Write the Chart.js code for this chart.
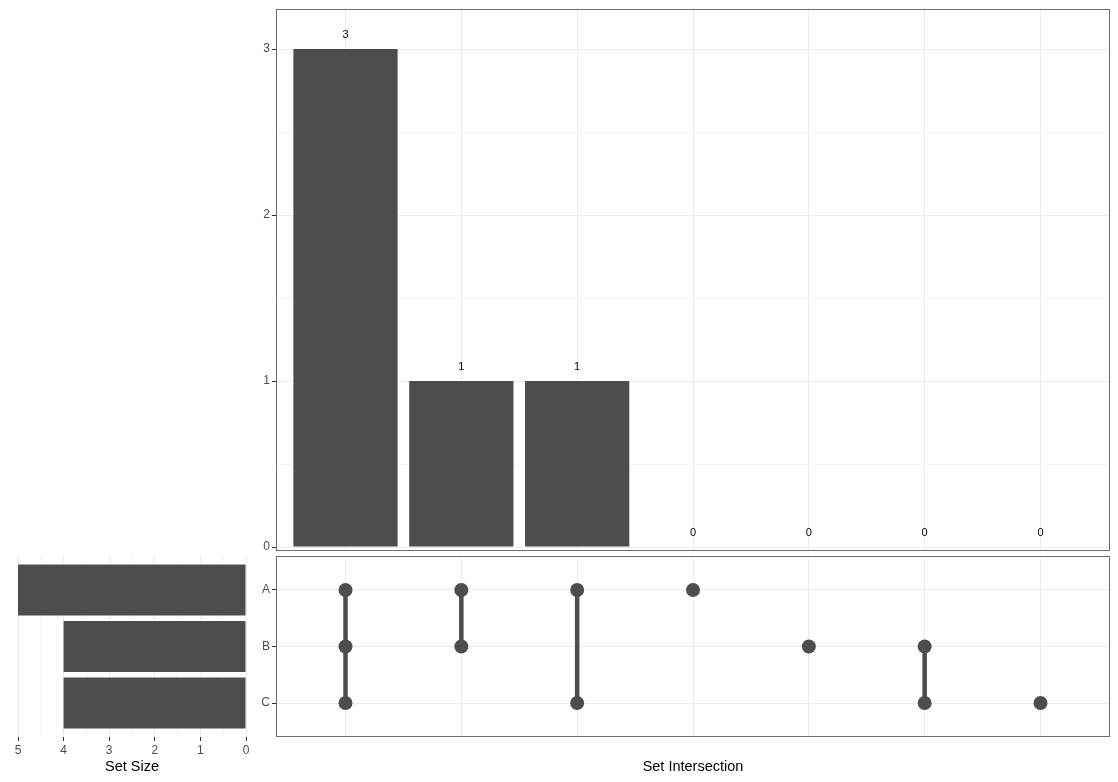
<!DOCTYPE html>
<html><head><meta charset="utf-8">
<script src="https://cdn.jsdelivr.net/npm/chart.js@4/dist/chart.umd.min.js"></script>
<style>
html,body{margin:0;padding:0;background:#fff;}
#wrap{position:relative;width:1118px;height:782px;overflow:hidden;}
canvas{position:absolute;left:0;top:0;}
</style></head><body>
<div id="wrap">
<canvas id="cTop" width="1118" height="782"></canvas>
<canvas id="cMat" width="1118" height="782"></canvas>
<canvas id="cSet" width="1118" height="782"></canvas>
</div>
<script>
// ---- data ----
const setNames = ['A', 'B', 'C'];
const setSizes = [5, 4, 4];
const intersections = ['A&B&C', 'A&B', 'A&C', 'A', 'B', 'B&C', 'C'];
const intersectionSizes = [3, 1, 1, 0, 0, 0, 0];
const intersectionTicks = [0, 1, 2, 3];
const setSizeTicks = [0, 1, 2, 3, 4, 5];

// ---- styles ----
const FONT = "'Liberation Sans', Arial, Helvetica, sans-serif";
const GRID = '#ebebeb';
const GRID_MINOR = '#f4f4f4';
const AX = '#333333';
const TXT = '#4d4d4d';
const BAR = '#4d4d4d';
const CLEAR = 'rgba(0,0,0,0)';
const TICK_SIZE = 12;
const isInt = v => Math.abs(v - Math.round(v)) < 1e-9;
const withHalves = arr => {
  const out = [];
  arr.forEach((v, i) => { out.push(v); if (i < arr.length - 1) out.push((v + arr[i + 1]) / 2); });
  return out;
};

const borderPlugin = {
  id: 'panelBorder',
  afterDraw(chart) {
    const a = chart.chartArea, ctx = chart.ctx;
    ctx.save();
    ctx.strokeStyle = '#6e6e6e';
    ctx.lineWidth = 1;
    ctx.strokeRect(Math.round(a.left) + 0.5, Math.round(a.top) + 0.5,
      Math.round(a.right - a.left) - 1, Math.round(a.bottom - a.top) - 1);
    ctx.restore();
  }
};

const barLabelPlugin = {
  id: 'barLabels',
  afterDatasetsDraw(chart) {
    const ctx = chart.ctx, xs = chart.scales.x, ys = chart.scales.y;
    ctx.save();
    ctx.fillStyle = '#000';
    ctx.font = '11px ' + FONT;
    ctx.textAlign = 'center';
    ctx.textBaseline = 'middle';
    intersectionSizes.forEach((v, i) => {
      ctx.fillText(String(v), xs.getPixelForValue(i), ys.getPixelForValue(v) - 14);
    });
    ctx.restore();
  }
};

const colTicks = s => { s.ticks = intersections.map((_, i) => ({ value: i })); };
const rowTicks = s => { s.ticks = setNames.map((_, i) => ({ value: i })); };

// ---- top: intersection size bars ----
new Chart(document.getElementById('cTop'), {
  type: 'bar',
  data: {
    datasets: [{
      data: intersectionSizes.map((v, i) => ({ x: i, y: v })),
      backgroundColor: BAR, borderWidth: 0,
      barPercentage: 0.9, categoryPercentage: 1
    }]
  },
  options: {
    responsive: false, animation: false, devicePixelRatio: 1,
    layout: { padding: { left: 240, top: 8, right: 8, bottom: 231 } },
    plugins: { legend: { display: false }, tooltip: { enabled: false } },
    scales: {
      x: {
        type: 'linear', min: -0.6, max: 6.6, offset: false,
        afterBuildTicks: colTicks,
        ticks: { display: false },
        grid: { color: GRID, drawTicks: false, offset: false },
        border: { display: false },
        afterFit(s) { s.height = 0; }
      },
      y: {
        type: 'linear', min: -0.024, max: 3.2405,
        afterBuildTicks(s) { s.ticks = withHalves(intersectionTicks).map(v => ({ value: v })); },
        ticks: {
          callback: v => isInt(v) ? String(v) : '',
          color: TXT, font: { family: FONT, size: TICK_SIZE }, padding: 2
        },
        grid: {
          color: c => isInt(c.tick.value) ? GRID : GRID_MINOR,
          tickColor: c => isInt(c.tick.value) ? AX : CLEAR,
          tickLength: 4
        },
        border: { display: false },
        afterFit(s) { s.width = 36; }
      }
    }
  },
  plugins: [barLabelPlugin, borderPlugin]
});

// ---- matrix ----
const dots = [];
intersections.forEach((name, i) => name.split('&').forEach(s => dots.push({ x: i, y: setNames.indexOf(s) })));
const segs = intersections.map((name, i) => {
  const rows = name.split('&').map(s => setNames.indexOf(s));
  return { type: 'line', data: [{ x: i, y: Math.min(...rows) }, { x: i, y: Math.max(...rows) }],
    borderColor: BAR, borderWidth: 4.5, pointRadius: 0, showLine: true, fill: false };
}).filter(d => d.data[0].y !== d.data[1].y);

new Chart(document.getElementById('cMat'), {
  type: 'scatter',
  data: {
    datasets: [{
      data: dots, backgroundColor: BAR, borderWidth: 0, pointRadius: 7, showLine: false
    }].concat(segs)
  },
  options: {
    responsive: false, animation: false, devicePixelRatio: 1,
    layout: { padding: { left: 240, top: 556, right: 8, bottom: 0 } },
    plugins: { legend: { display: false }, tooltip: { enabled: false } },
    scales: {
      x: {
        type: 'linear', min: -0.6, max: 6.6, offset: false,
        afterBuildTicks: colTicks,
        ticks: { display: false },
        grid: { color: GRID, drawTicks: false },
        border: { display: false },
        title: { display: true, text: 'Set Intersection', color: '#000',
          font: { family: FONT, size: 14.5 }, padding: { top: 0, bottom: 6 } },
        afterFit(s) { s.height = 45; }
      },
      y: {
        type: 'linear', min: -0.6, max: 2.6, reverse: true,
        afterBuildTicks: rowTicks,
        ticks: {
          callback: v => setNames[v] || '',
          color: TXT, font: { family: FONT, size: TICK_SIZE }, padding: 2
        },
        grid: { color: GRID, tickColor: AX, tickLength: 4 },
        border: { display: false },
        afterFit(s) { s.width = 36; }
      }
    }
  },
  plugins: [borderPlugin]
});

// ---- set size bars ----
new Chart(document.getElementById('cSet'), {
  type: 'bar',
  data: {
    datasets: [{
      data: setSizes.map((v, i) => ({ x: v, y: i })),
      backgroundColor: BAR, borderWidth: 0,
      barPercentage: 0.9, categoryPercentage: 1
    }]
  },
  options: {
    indexAxis: 'y',
    responsive: false, animation: false, devicePixelRatio: 1,
    layout: { padding: { left: 18, top: 556, right: 872, bottom: 0 } },
    plugins: { legend: { display: false }, tooltip: { enabled: false } },
    scales: {
      x: {
        type: 'linear', min: 0, max: 5, reverse: true, position: 'bottom', offset: false,
        afterBuildTicks(s) { s.ticks = withHalves(setSizeTicks).map(v => ({ value: v })); },
        ticks: {
          callback: v => isInt(v) ? String(v) : '',
          color: TXT, font: { family: FONT, size: TICK_SIZE }, padding: 2, maxRotation: 0, autoSkip: false
        },
        grid: {
          color: c => isInt(c.tick.value) ? GRID : GRID_MINOR,
          tickColor: c => isInt(c.tick.value) ? AX : CLEAR,
          tickLength: 4
        },
        border: { display: false },
        title: { display: true, text: 'Set Size', color: '#000',
          font: { family: FONT, size: 14.5 }, padding: { top: 0, bottom: 6 } },
        afterFit(s) { s.height = 45; }
      },
      y: {
        type: 'linear', min: -0.6, max: 2.6, reverse: true, offset: false,
        afterBuildTicks: rowTicks,
        ticks: { display: false },
        grid: { display: false, offset: false },
        border: { display: false },
        afterFit(s) { s.width = 0; }
      }
    }
  }
});
</script>
</body></html>
